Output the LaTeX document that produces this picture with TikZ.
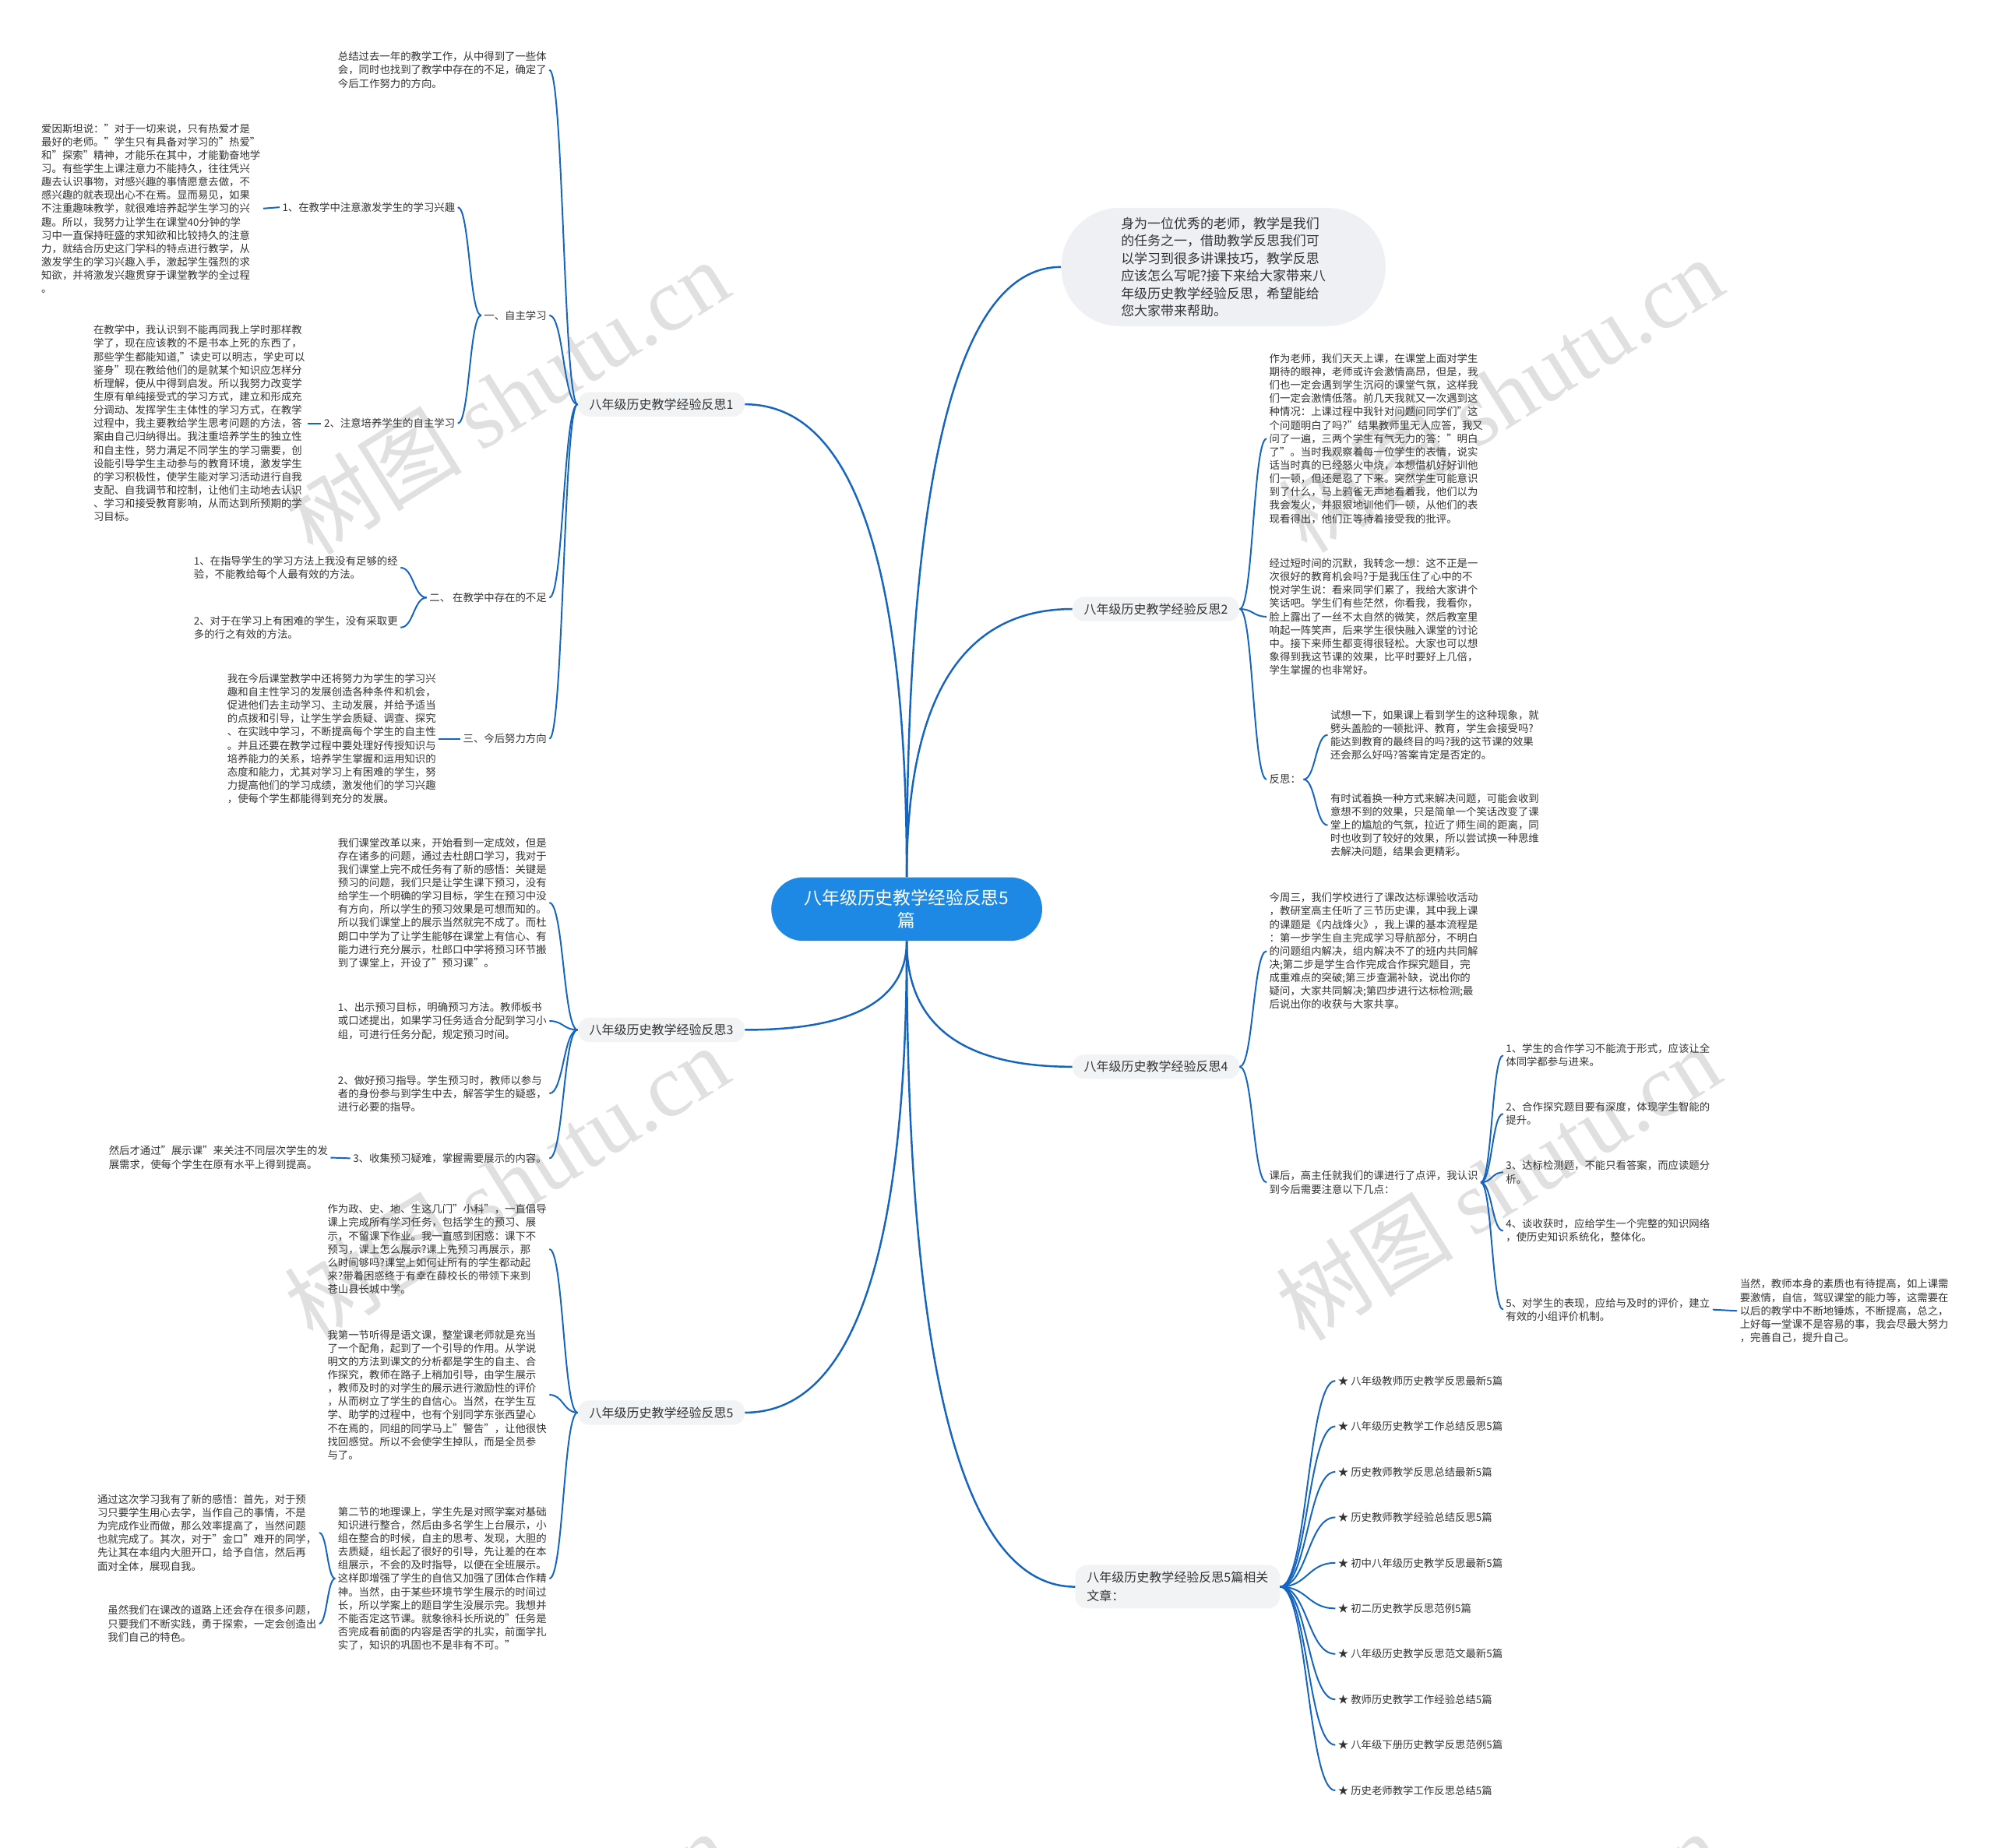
\documentclass[tikz,border=0pt]{standalone}
\usepackage{fontspec}
\setmainfont{Noto Sans CJK SC}
\newfontfamily\wmlatin{Liberation Serif}
\usetikzlibrary{calc}
\definecolor{lineblue}{HTML}{1565C0}
\definecolor{centerblue}{HTML}{1E88E5}
\definecolor{bubblegray}{HTML}{EEF0F3}
\definecolor{branchgray}{HTML}{F2F3F5}
\definecolor{txtgray}{HTML}{333333}
\newcommand\mmlink[2]{\draw[link] let \p1=(#1), \p2=(#2) in (\p1) .. controls ({0.5*\x1+0.5*\x2},\y1) and ({0.5*\x1+0.5*\x2},\y2) .. (\p2);}
\newcommand\mmmain[2]{\draw[mainlink] let \p1=(#1), \p2=(#2) in (\p1) .. controls ({\x1},{\y1+2/3*(\y2-\y1)}) and ({\x2+2/3*(\x1-\x2)},{\y2}) .. (\p2);}
\begin{document}
\begin{tikzpicture}[x=1pt,y=-1pt,
  txt/.style={inner xsep=2pt, inner ysep=0pt, align=left, font=\fontsize{8.2}{10.5}\selectfont, text=txtgray},
  branch/.style={fill=branchgray, rounded corners=9pt, inner xsep=9pt, inner ysep=5pt, align=left, font=\fontsize{9.8}{15}\selectfont, text=txtgray},
  link/.style={draw=lineblue, line width=1.2pt},
  mainlink/.style={draw=lineblue, line width=1.5pt},
  wm/.style={text=gray!24, rotate=32, font=\fontsize{70}{70}\selectfont, inner sep=0pt}
]
\useasboundingbox (0,0) rectangle (1568,1453);
\fill[white] (0,0) rectangle (1568,1453);

% watermarks
\begin{scope}
\clip (0,0) rectangle (1568,1453);
\node[wm] (w1) at (398,312) {树图 {\wmlatin shutu.cn}};
\node[wm] (w2) at (1180,310) {树图 {\wmlatin shutu.cn}};
\node[wm] (w3) at (398,930) {树图 {\wmlatin shutu.cn}};
\node[wm] (w4) at (1178,930) {树图 {\wmlatin shutu.cn}};
\node[wm] (w5) at (398,1548) {树图 {\wmlatin shutu.cn}};
\node[wm] (w6) at (1178,1548) {树图 {\wmlatin shutu.cn}};
\end{scope}

% center
\node[fill=centerblue, rounded corners=25pt, minimum width=213pt, minimum height=50pt, text=white, align=center, font=\fontsize{13.9}{18}\selectfont] (c) at (713,715) {八年级历史教学经验反思5\\篇};

% level 1
\node[branch] (b1) at (520,318) {八年级历史教学经验反思1};
\node[branch] (b3) at (520,810) {八年级历史教学经验反思3};
\node[branch] (b5) at (520,1111) {八年级历史教学经验反思5};
\node[branch] (b2) at (909,479) {八年级历史教学经验反思2};
\node[branch] (b4) at (909,839) {八年级历史教学经验反思4};
\node[branch] (rel) at (926,1248) {八年级历史教学经验反思5篇相关\\文章：};
\node[fill=bubblegray, rounded corners=46pt, minimum width=255pt, minimum height=93pt, align=left, font=\fontsize{10.4}{13.8}\selectfont, text=txtgray] (intro) at (962,210) {身为一位优秀的老师，教学是我们\\的任务之一，借助教学反思我们可\\以学习到很多讲课技巧，教学反思\\应该怎么写呢?接下来给大家带来八\\年级历史教学经验反思，希望能给\\您大家带来帮助。};

\mmmain{c.north}{b1.east}
\mmmain{c.north}{intro.west}
\mmmain{c.north}{b2.west}
\mmmain{c.south}{b3.east}
\mmmain{c.south}{b4.west}
\mmmain{c.south}{b5.east}
\mmmain{c.south}{rel.west}

% ---------- branch 1 ----------
\node[txt, anchor=east] (zj) at (432,55) {总结过去一年的教学工作，从中得到了一些体\\会，同时也找到了教学中存在的不足，确定了\\今后工作努力的方向。};
\node[txt, anchor=east] (zz) at (432,248) {一、自主学习};
\node[txt, anchor=east] (x1) at (360,163) {1、在教学中注意激发学生的学习兴趣};
\node[txt, anchor=east] (p1) at (207,164) {爱因斯坦说："对于一切来说，只有热爱才是\\最好的老师。"学生只有具备对学习的"热爱"\\和"探索"精神，才能乐在其中，才能勤奋地学\\习。有些学生上课注意力不能持久，往往凭兴\\趣去认识事物，对感兴趣的事情愿意去做，不\\感兴趣的就表现出心不在焉。显而易见，如果\\不注重趣味教学，就很难培养起学生学习的兴\\趣。所以，我努力让学生在课堂40分钟的学\\习中一直保持旺盛的求知欲和比较持久的注意\\力，就结合历史这门学科的特点进行教学，从\\激发学生的学习兴趣入手，激起学生强烈的求\\知欲，并将激发兴趣贯穿于课堂教学的全过程\\。};
\node[txt, anchor=east] (x2) at (360,333) {2、注意培养学生的自主学习};
\node[txt, anchor=east] (p2) at (242,333) {在教学中，我认识到不能再同我上学时那样教\\学了，现在应该教的不是书本上死的东西了，\\那些学生都能知道,"读史可以明志，学史可以\\鉴身"现在教给他们的是就某个知识应怎样分\\析理解，使从中得到启发。所以我努力改变学\\生原有单纯接受式的学习方式，建立和形成充\\分调动、发挥学生主体性的学习方式，在教学\\过程中，我主要教给学生思考问题的方法，答\\案由自己归纳得出。我注重培养学生的独立性\\和自主性，努力满足不同学生的学习需要，创\\设能引导学生主动参与的教育环境，激发学生\\的学习积极性，使学生能对学习活动进行自我\\支配、自我调节和控制，让他们主动地去认识\\、学习和接受教育影响，从而达到所预期的学\\习目标。};
\node[txt, anchor=east] (bz) at (432,470) {二、 在教学中存在的不足};
\node[txt, anchor=east] (bz1) at (315,446.5) {1、在指导学生的学习方法上我没有足够的经\\验，不能教给每个人最有效的方法。};
\node[txt, anchor=east] (bz2) at (315,493.5) {2、对于在学习上有困难的学生，没有采取更\\多的行之有效的方法。};
\node[txt, anchor=east] (fx) at (432,581) {三、今后努力方向};
\node[txt, anchor=east] (p3) at (345,581) {我在今后课堂教学中还将努力为学生的学习兴\\趣和自主性学习的发展创造各种条件和机会，\\促进他们去主动学习、主动发展，并给予适当\\的点拨和引导，让学生学会质疑、调查、探究\\、在实践中学习，不断提高每个学生的自主性\\。并且还要在教学过程中要处理好传授知识与\\培养能力的关系，培养学生掌握和运用知识的\\态度和能力，尤其对学习上有困难的学生，努\\力提高他们的学习成绩，激发他们的学习兴趣\\，使每个学生都能得到充分的发展。};

\mmlink{b1.west}{zj.east}
\mmlink{b1.west}{zz.east}
\mmlink{b1.west}{bz.east}
\mmlink{b1.west}{fx.east}
\mmlink{zz.west}{x1.east}
\mmlink{zz.west}{x2.east}
\mmlink{x1.west}{p1.east}
\mmlink{x2.west}{p2.east}
\mmlink{bz.west}{bz1.east}
\mmlink{bz.west}{bz2.east}
\mmlink{fx.west}{p3.east}

% ---------- branch 3 ----------
\node[txt, anchor=east] (g) at (432,710) {我们课堂改革以来，开始看到一定成效，但是\\存在诸多的问题，通过去杜朗口学习，我对于\\我们课堂上完不成任务有了新的感悟：关键是\\预习的问题，我们只是让学生课下预习，没有\\给学生一个明确的学习目标，学生在预习中没\\有方向，所以学生的预习效果是可想而知的。\\所以我们课堂上的展示当然就完不成了。而杜\\朗口中学为了让学生能够在课堂上有信心、有\\能力进行充分展示，杜郎口中学将预习环节搬\\到了课堂上，开设了"预习课"。};
\node[txt, anchor=east] (g1) at (432,803) {1、出示预习目标，明确预习方法。教师板书\\或口述提出，如果学习任务适合分配到学习小\\组，可进行任务分配，规定预习时间。};
\node[txt, anchor=east] (g2) at (432,860) {2、做好预习指导。学生预习时，教师以参与\\者的身份参与到学生中去，解答学生的疑惑，\\进行必要的指导。};
\node[txt, anchor=east] (g3) at (432,911) {3、收集预习疑难，掌握需要展示的内容。};
\node[txt, anchor=east] (g3c) at (260,910.5) {然后才通过"展示课"来关注不同层次学生的发\\展需求，使每个学生在原有水平上得到提高。};

\mmlink{b3.west}{g.east}
\mmlink{b3.west}{g1.east}
\mmlink{b3.west}{g2.east}
\mmlink{b3.west}{g3.east}
\mmlink{g3.west}{g3c.east}

% ---------- branch 5 ----------
\node[txt, anchor=east] (h1) at (432,982.5) {作为政、史、地、生这几门"小科"，一直倡导\\课上完成所有学习任务，包括学生的预习、展\\示，不留课下作业。我一直感到困惑：课下不\\预习，课上怎么展示?课上先预习再展示，那\\么时间够吗?课堂上如何让所有的学生都动起\\来?带着困惑终于有幸在薛校长的带领下来到\\苍山县长城中学。};
\node[txt, anchor=east] (h2) at (432,1097) {我第一节听得是语文课，整堂课老师就是充当\\了一个配角，起到了一个引导的作用。从学说\\明文的方法到课文的分析都是学生的自主、合\\作探究，教师在路子上稍加引导，由学生展示\\，教师及时的对学生的展示进行激励性的评价\\，从而树立了学生的自信心。当然，在学生互\\学、助学的过程中，也有个别同学东张西望心\\不在焉的，同组的同学马上"警告"，让他很快\\找回感觉。所以不会使学生掉队，而是全员参\\与了。};
\node[txt, anchor=east] (h3) at (432,1241.5) {第二节的地理课上，学生先是对照学案对基础\\知识进行整合，然后由多名学生上台展示，小\\组在整合的时候，自主的思考、发现，大胆的\\去质疑，组长起了很好的引导，先让差的在本\\组展示，不会的及时指导，以便在全班展示。\\这样即增强了学生的自信又加强了团体合作精\\神。当然，由于某些环境节学生展示的时间过\\长，所以学案上的题目学生没展示完。我想并\\不能否定这节课。就象徐科长所说的"任务是\\否完成看前面的内容是否学的扎实，前面学扎\\实了，知识的巩固也不是非有不可。"};
\node[txt, anchor=east] (h3a) at (251,1205.5) {通过这次学习我有了新的感悟：首先，对于预\\习只要学生用心去学，当作自己的事情，不是\\为完成作业而做，那么效率提高了，当然问题\\也就完成了。其次，对于"金口"难开的同学，\\先让其在本组内大胆开口，给予自信，然后再\\面对全体，展现自我。};
\node[txt, anchor=east] (h3b) at (251,1277) {虽然我们在课改的道路上还会存在很多问题，\\只要我们不断实践，勇于探索，一定会创造出\\我们自己的特色。};

\mmlink{b5.west}{h1.east}
\mmlink{b5.west}{h2.east}
\mmlink{b5.west}{h3.east}
\mmlink{h3.west}{h3a.east}
\mmlink{h3.west}{h3b.east}

% ---------- branch 2 ----------
\node[txt, anchor=west] (r1) at (996,345) {作为老师，我们天天上课，在课堂上面对学生\\期待的眼神，老师或许会激情高昂，但是，我\\们也一定会遇到学生沉闷的课堂气氛，这样我\\们一定会激情低落。前几天我就又一次遇到这\\种情况：上课过程中我针对问题问同学们"这\\个问题明白了吗?"结果教师里无人应答，我又\\问了一遍，三两个学生有气无力的答："明白\\了"。当时我观察着每一位学生的表情，说实\\话当时真的已经怒火中烧，本想借机好好训他\\们一顿，但还是忍了下来。突然学生可能意识\\到了什么，马上鸦雀无声地看着我，他们以为\\我会发火，并狠狠地训他们一顿，从他们的表\\现看得出，他们正等待着接受我的批评。};
\node[txt, anchor=west] (r2) at (996,485) {经过短时间的沉默，我转念一想：这不正是一\\次很好的教育机会吗?于是我压住了心中的不\\悦对学生说：看来同学们累了，我给大家讲个\\笑话吧。学生们有些茫然，你看我，我看你，\\脸上露出了一丝不太自然的微笑，然后教室里\\响起一阵笑声，后来学生很快融入课堂的讨论\\中。接下来师生都变得很轻松。大家也可以想\\象得到我这节课的效果，比平时要好上几倍，\\学生掌握的也非常好。};
\node[txt, anchor=west] (fs) at (996,613) {反思：};
\node[txt, anchor=west] (fs1) at (1044,578) {试想一下，如果课上看到学生的这种现象，就\\劈头盖脸的一顿批评、教育，学生会接受吗?\\能达到教育的最终目的吗?我的这节课的效果\\还会那么好吗?答案肯定是否定的。};
\node[txt, anchor=west] (fs2) at (1044,649) {有时试着换一种方式来解决问题，可能会收到\\意想不到的效果，只是简单一个笑话改变了课\\堂上的尴尬的气氛，拉近了师生间的距离，同\\时也收到了较好的效果，所以尝试换一种思维\\去解决问题，结果会更精彩。};

\mmlink{b2.east}{r1.west}
\mmlink{b2.east}{r2.west}
\mmlink{b2.east}{fs.west}
\mmlink{fs.east}{fs1.west}
\mmlink{fs.east}{fs2.west}

% ---------- branch 4 ----------
\node[txt, anchor=west] (s1) at (996,748) {今周三，我们学校进行了课改达标课验收活动\\，教研室高主任听了三节历史课，其中我上课\\的课题是《内战烽火》，我上课的基本流程是\\：第一步学生自主完成学习导航部分，不明白\\的问题组内解决，组内解决不了的班内共同解\\决;第二步是学生合作完成合作探究题目，完\\成重难点的突破;第三步查漏补缺，说出你的\\疑问，大家共同解决;第四步进行达标检测;最\\后说出你的收获与大家共享。};
\node[txt, anchor=west] (s2) at (996,930) {课后，高主任就我们的课进行了点评，我认识\\到今后需要注意以下几点：};
\node[txt, anchor=west] (k1) at (1182,830) {1、学生的合作学习不能流于形式，应该让全\\体同学都参与进来。};
\node[txt, anchor=west] (k2) at (1182,876) {2、合作探究题目要有深度，体现学生智能的\\提升。};
\node[txt, anchor=west] (k3) at (1182,922) {3、达标检测题，不能只看答案，而应读题分\\析。};
\node[txt, anchor=west] (k4) at (1182,968) {4、谈收获时，应给学生一个完整的知识网络\\，使历史知识系统化，整体化。};
\node[txt, anchor=west] (k5) at (1182,1030) {5、对学生的表现，应给与及时的评价，建立\\有效的小组评价机制。};
\node[txt, anchor=west] (k5c) at (1366,1031) {当然，教师本身的素质也有待提高，如上课需\\要激情，自信，驾驭课堂的能力等，这需要在\\以后的教学中不断地锤炼，不断提高，总之，\\上好每一堂课不是容易的事，我会尽最大努力\\，完善自己，提升自己。};

\mmlink{b4.east}{s1.west}
\mmlink{b4.east}{s2.west}
\mmlink{s2.east}{k1.west}
\mmlink{s2.east}{k2.west}
\mmlink{s2.east}{k3.west}
\mmlink{s2.east}{k4.west}
\mmlink{s2.east}{k5.west}
\mmlink{k5.east}{k5c.west}

% ---------- related ----------
\node[txt, anchor=west] (i1) at (1050,1086) {★ 八年级教师历史教学反思最新5篇};
\node[txt, anchor=west] (i2) at (1050,1121.8) {★ 八年级历史教学工作总结反思5篇};
\node[txt, anchor=west] (i3) at (1050,1157.6) {★ 历史教师教学反思总结最新5篇};
\node[txt, anchor=west] (i4) at (1050,1193.4) {★ 历史教师教学经验总结反思5篇};
\node[txt, anchor=west] (i5) at (1050,1229.2) {★ 初中八年级历史教学反思最新5篇};
\node[txt, anchor=west] (i6) at (1050,1265) {★ 初二历史教学反思范例5篇};
\node[txt, anchor=west] (i7) at (1050,1300.8) {★ 八年级历史教学反思范文最新5篇};
\node[txt, anchor=west] (i8) at (1050,1336.6) {★ 教师历史教学工作经验总结5篇};
\node[txt, anchor=west] (i9) at (1050,1372.4) {★ 八年级下册历史教学反思范例5篇};
\node[txt, anchor=west] (i10) at (1050,1408.2) {★ 历史老师教学工作反思总结5篇};
\foreach \i in {1,...,10}{\mmlink{rel.east}{i\i.west}}
\end{tikzpicture}
\end{document}
